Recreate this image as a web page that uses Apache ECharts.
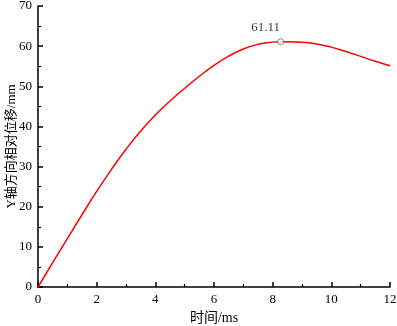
<!DOCTYPE html>
<html><head><meta charset="utf-8">
<script src="https://cdn.jsdelivr.net/npm/echarts@6/dist/echarts.min.js"></script>
<style>html,body{margin:0;padding:0;background:#fff}#c{width:397px;height:326px}</style>
</head><body><div id="c"></div>
<script>
const timeMs = [0,0.5,1,1.5,2,2.5,3,3.5,4,4.5,5,5.5,6,6.5,7,7.5,8,8.27,8.5,9,9.5,10,10.5,11,11.5,12];
const dispMm = [0,6.05,12.05,18.0,23.8,29.25,34.3,38.85,42.85,46.35,49.5,52.5,55.2,57.5,59.3,60.45,61.0,61.11,61.1,60.95,60.55,59.75,58.65,57.45,56.25,55.1];
const peakPoint = [8.27, 61.11];
const peakLabel = '61.11';
const xTicks = {min:0,max:12,interval:2};
const yTicks = {min:0,max:70,interval:10};

const serif = '"Liberation Serif","Noto Sans CJK SC",serif';
const chart = echarts.init(document.getElementById('c'), null, {renderer:'canvas'});
const axisCommon = {
  axisLine:{show:true,onZero:false,lineStyle:{color:'#000',width:1.5}},
  axisTick:{show:true,inside:true,length:5,lineStyle:{color:'#000',width:1.5}},
  minorTick:{show:true,splitNumber:2,length:3,lineStyle:{color:'#000',width:1.2}},
  splitLine:{show:false},
  axisLabel:{color:'#000',fontFamily:serif,fontSize:13},
  nameTextStyle:{color:'#000',fontFamily:serif,fontSize:13},
  nameMoveOverlap:false
};
chart.setOption({
  animation:false,
  grid:{left:38,right:7,top:6,bottom:39,containLabel:false,outerBoundsMode:'none'},
  xAxis:Object.assign({type:'value',min:xTicks.min,max:xTicks.max,interval:xTicks.interval,
    name:'时间/ms',nameLocation:'middle',nameGap:24},axisCommon,
    {axisLabel:Object.assign({},axisCommon.axisLabel,{margin:6}),
     nameTextStyle:Object.assign({},axisCommon.nameTextStyle,{fontSize:14})}),
  yAxis:Object.assign({type:'value',min:yTicks.min,max:yTicks.max,interval:yTicks.interval,
    name:'Y轴方向相对位移/mm',nameLocation:'middle',nameGap:20},axisCommon,
    {axisLabel:Object.assign({},axisCommon.axisLabel,{margin:6})}),
  series:[
    {type:'line',data:timeMs.map((t,i)=>[t,dispMm[i]]),smooth:true,showSymbol:false,
     lineStyle:{color:'#ff0000',width:1.5},z:2},
    {type:'scatter',data:[peakPoint],symbol:'circle',symbolSize:6,
     itemStyle:{color:'#fff',borderColor:'#666',borderWidth:1},
     label:{show:true,position:'top',distance:4,offset:[-15,0],formatter:()=>peakLabel,color:'#000',fontFamily:serif,fontSize:13},z:3}
  ]
});
</script></body></html>
